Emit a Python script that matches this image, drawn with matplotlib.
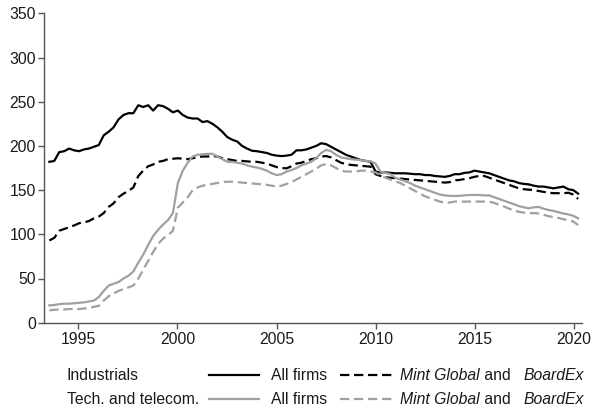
import numpy as np
import matplotlib
matplotlib.use("Agg")
import matplotlib.pyplot as plt
from matplotlib.lines import Line2D

plt.rcParams['font.family'] = ['Liberation Sans', 'DejaVu Sans']

# quarterly observations, mid 1993 to early 2020
dates = np.linspace(1993.54, 2020.21, 108)

ind_all = [182, 183, 193, 194, 197, 195, 194, 196, 197, 199,
           201, 212, 216, 221, 230, 235, 237, 237, 246, 244,
           246, 240, 246, 245, 242, 238, 240, 235, 232, 231,
           231, 227, 228, 225, 221, 216, 210, 207, 205, 200,
           197, 194.5, 194, 193, 192, 190, 189, 188.5, 189, 190,
           195, 195, 196, 198, 200, 203, 202, 199, 196, 193,
           190, 188, 186, 184, 183, 182, 171, 170, 170, 169.5,
           169, 169, 169, 168.5, 168, 168, 167, 167, 166, 165.5,
           165, 166, 168, 168, 169.5, 170, 172, 171, 170, 169,
           167, 165, 163, 161, 160, 158, 157, 156.5, 155, 154,
           154, 153, 152, 153, 154, 151, 150, 146]

ind_bx = [93, 96, 104, 106, 108, 110, 112.5, 113.5, 115, 118,
          120, 124, 131, 135, 142, 146, 149, 153, 166, 172,
          177, 179, 182, 183, 185, 185.5, 186, 185.5, 185, 186,
          187.5, 188, 188, 188.5, 188, 186, 185, 184, 183, 183,
          182.5, 182, 182, 181, 180, 178, 176, 175, 174.6, 177,
          180, 181, 183, 185, 186, 188, 188.5, 187, 184, 181,
          179.5, 178.5, 178, 177.5, 177, 176.5, 168, 166, 164.5, 164,
          163.5, 163, 162.5, 162, 161.5, 161, 160.5, 160, 159.5, 159,
          158.5, 159, 161, 161.5, 162.5, 163.5, 165, 166, 166, 164,
          162, 160, 158, 156, 154, 152, 151, 150.5, 150, 149,
          148, 147, 146.5, 146.5, 146.5, 147, 145, 140]

tech_all = [19.6, 20, 21, 21.5, 21.5, 22, 22.5, 23, 24, 25,
            29, 36, 42, 44, 46, 50, 53, 58, 68, 77,
            88, 98, 105, 111, 116, 124, 158, 172, 181, 188,
            190, 190.5, 191, 191, 188, 185, 182, 182, 181, 180,
            178, 176.5, 175.5, 174, 172, 169, 167, 168, 171, 172.7,
            175, 178, 180, 182, 186, 192, 195.5, 194, 190, 187,
            186, 185, 184.5, 184, 183, 182.5, 180, 171, 169.5, 168,
            164, 162, 160, 158, 155, 153, 151, 149, 147, 145,
            144, 143.5, 143.4, 143.5, 144, 144.5, 144.5, 144.5, 144, 144,
            142, 140, 138, 136, 134, 132, 130.5, 129.5, 130.5, 131,
            129, 127.5, 126.5, 125, 123.5, 122.5, 121, 118]

tech_bx = [14, 14.5, 15, 15, 15.5, 15.5, 15.5, 16, 16.5, 18,
           19, 25, 30, 33, 36, 38, 40, 42, 50, 60,
           70, 80, 89, 95, 99, 104, 130, 136, 142, 150,
           153, 155, 156, 157, 158, 159, 159.5, 159.5, 159, 158.5,
           158, 157.5, 157, 156.5, 156, 155, 154, 155, 157, 159,
           162, 165, 168, 171, 174, 178, 179.5, 178, 175, 172,
           171, 171, 171, 172, 172, 171, 170, 167, 164, 162,
           160, 158, 155, 152, 149, 146, 143, 141, 139, 137,
           136, 136, 137, 137, 137, 137, 137, 137, 137, 137,
           135.5, 133.5, 131.5, 129, 127, 125.5, 124.5, 124, 124, 123.5,
           122, 120.5, 119.5, 118.5, 117, 116, 114.5, 110.5]

x_ticks = [1995, 2000, 2005, 2010, 2015, 2020]
y_ticks = [0, 50, 100, 150, 200, 250, 300, 350]

BLACK = '#000000'
GRAY = '#a0a0a0'
LW = 1.6
DASH = (4.2, 2.1)
FS = 11.3
TXT = '#1a1a1a'

W, H = 593, 412
fig = plt.figure(figsize=(W / 100, H / 100), dpi=100)
ax = fig.add_axes([44.3 / W, 1 - 322.7 / H, (581.7 - 44.3) / W, (322.7 - 13.3) / H])

ax.plot(dates, ind_all, color=BLACK, lw=LW)
ax.plot(dates, ind_bx, color=BLACK, lw=LW, dashes=DASH)
ax.plot(dates, tech_all, color=GRAY, lw=LW)
ax.plot(dates, tech_bx, color=GRAY, lw=LW, dashes=DASH)

ax.set_xlim(1993.285, 2020.39)
ax.set_ylim(0, 350)
ax.set_xticks(x_ticks)
ax.set_yticks(y_ticks)
for s in ['top', 'right']:
    ax.spines[s].set_visible(False)
for s in ['left', 'bottom']:
    ax.spines[s].set_color('#555555')
    ax.spines[s].set_linewidth(1.0)
ax.tick_params(axis='both', direction='out', length=4.0, width=1.0,
               color='#555555', labelsize=FS, labelcolor=TXT)
ax.tick_params(axis='x', pad=3.0)
ax.tick_params(axis='y', pad=2.0)

# legend table below the axes
def fy(py):
    return 1 - py / H

def fx(px):
    return px / W

rows = [("Industrials", BLACK, 375), ("Tech. and telecom.", GRAY, 399)]
for label, col, py in rows:
    fig.text(fx(66.7), fy(py), label, fontsize=FS, va='center', ha='left', color=TXT)
    fig.add_artist(Line2D([fx(209), fx(259)], [fy(py), fy(py)], color=col, lw=LW,
                          transform=fig.transFigure))
    fig.text(fx(271), fy(py), "All firms", fontsize=FS, va='center', ha='left', color=TXT)
    fig.add_artist(Line2D([fx(340), fx(391.7)], [fy(py), fy(py)], color=col, lw=LW,
                          dashes=DASH, transform=fig.transFigure))
    t1 = fig.text(fx(400), fy(py), "Mint Global", fontsize=FS, style='italic',
                  va='center', ha='left', color=TXT)
    t2 = ax.annotate(" and   ", xy=(1, 0), xycoords=t1, va='bottom', ha='left',
                     fontsize=FS, color=TXT, annotation_clip=False)
    t3 = ax.annotate("BoardEx", xy=(1, 0), xycoords=t2, va='bottom', ha='left',
                     fontsize=FS, style='italic', color=TXT, annotation_clip=False)

fig.savefig("out.png", dpi=100)
